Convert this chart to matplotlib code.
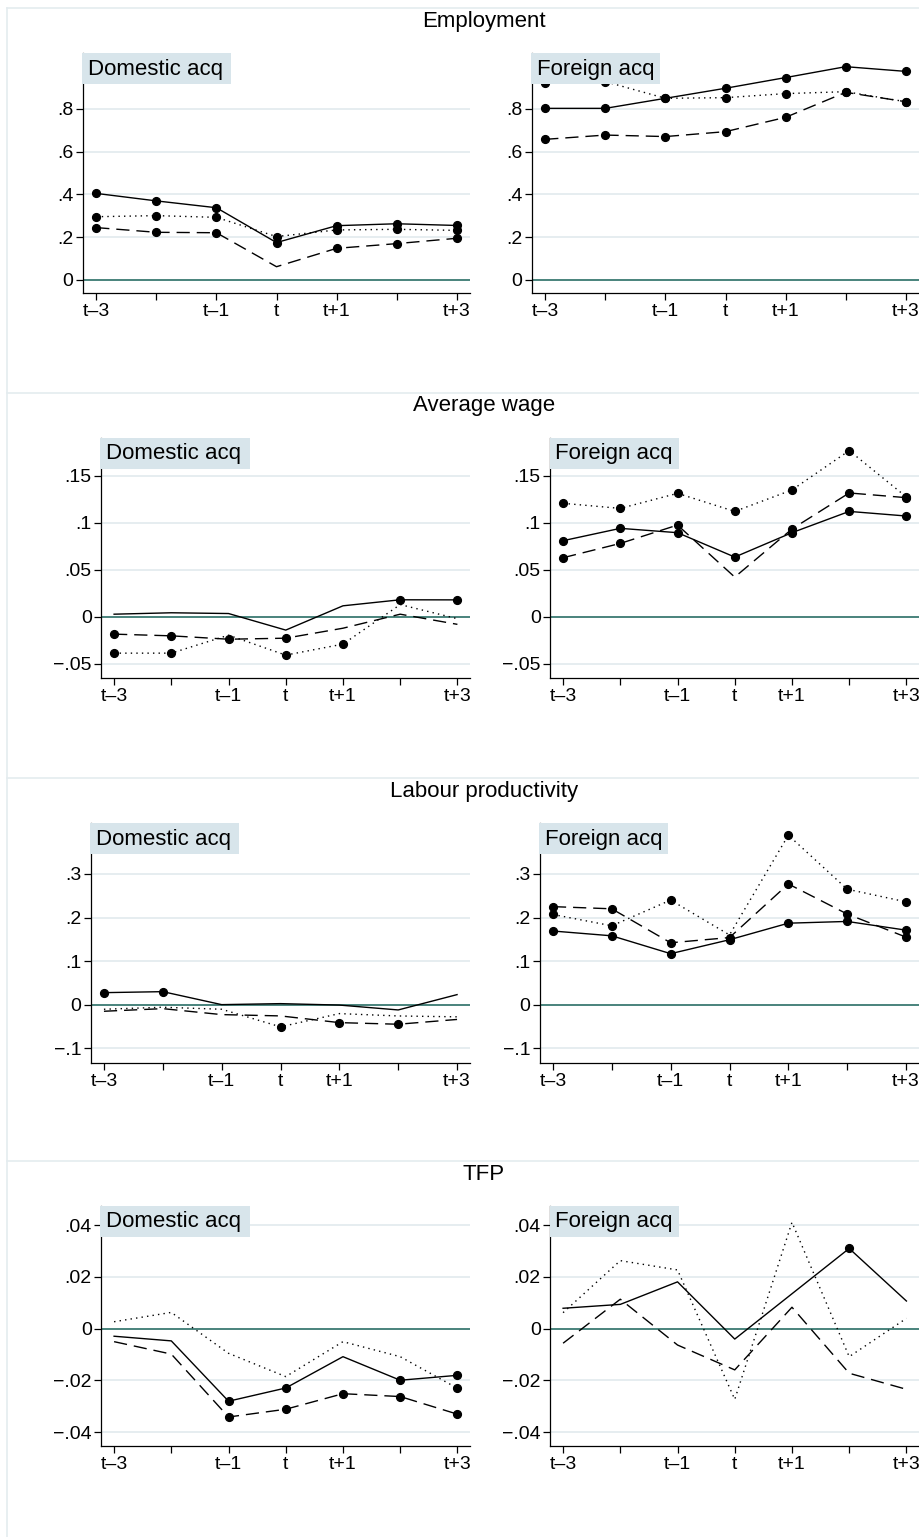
import numpy as np
import matplotlib
matplotlib.use("Agg")
import matplotlib.pyplot as plt
from matplotlib.patches import Rectangle
from matplotlib.lines import Line2D

plt.rcParams['font.family'] = ['Liberation Sans', 'DejaVu Sans']

periods = ["t–3", "", "t–1", "t", "t+1", "", "t+3"]
outcomes = ["Employment", "Average wage", "Labour productivity", "TFP"]
groups = ["Domestic acq", "Foreign acq"]

# --- Employment
emp_dom_solid = [0.405, 0.370, 0.338, 0.175, 0.254, 0.263, 0.255]
emp_dom_dash = [0.245, 0.223, 0.221, 0.062, 0.148, 0.170, 0.195]
emp_dom_dot = [0.296, 0.301, 0.293, 0.203, 0.234, 0.237, 0.232]
emp_dom_sig = [[1, 1, 1, 1, 1, 1, 1], [1, 1, 1, 0, 1, 1, 1], [1, 1, 1, 1, 1, 1, 1]]

emp_for_solid = [0.803, 0.803, 0.850, 0.897, 0.947, 0.998, 0.976]
emp_for_dash = [0.658, 0.678, 0.671, 0.694, 0.761, 0.878, 0.834]
emp_for_dot = [0.920, 0.928, 0.850, 0.853, 0.872, 0.881, 0.834]
emp_for_sig = [[1, 1, 1, 1, 1, 1, 1], [1, 1, 1, 1, 1, 1, 1], [1, 1, 1, 1, 1, 1, 1]]

# --- Average wage
wage_dom_solid = [0.0028, 0.0043, 0.0035, -0.0141, 0.0117, 0.0181, 0.0180]
wage_dom_dash = [-0.0184, -0.0202, -0.0238, -0.0227, -0.0121, 0.0028, -0.0080]
wage_dom_dot = [-0.0386, -0.0386, -0.0195, -0.0407, -0.0290, 0.0130, -0.0020]
wage_dom_sig = [[0, 0, 0, 0, 0, 1, 1], [1, 1, 1, 1, 0, 0, 0], [1, 1, 0, 1, 1, 0, 0]]

wage_for_solid = [0.0809, 0.0940, 0.0894, 0.0635, 0.0894, 0.1120, 0.1071]
wage_for_dash = [0.0628, 0.0780, 0.0975, 0.0422, 0.0933, 0.1316, 0.1266]
wage_for_dot = [0.1206, 0.1152, 0.1312, 0.1120, 0.1348, 0.1766, 0.1273]
wage_for_sig = [[1, 1, 1, 1, 1, 1, 1], [1, 1, 1, 0, 1, 1, 1], [1, 1, 1, 1, 1, 1, 1]]

# --- Labour productivity
lp_dom_solid = [0.0275, 0.0298, 0.0000, 0.0023, -0.0010, -0.0122, 0.0230]
lp_dom_dash = [-0.0152, -0.0092, -0.0229, -0.0259, -0.0413, -0.0450, -0.0340]
lp_dom_dot = [-0.0106, -0.0060, -0.0106, -0.0510, -0.0206, -0.0260, -0.0280]
lp_dom_sig = [[1, 1, 0, 0, 0, 0, 0], [0, 0, 0, 0, 1, 1, 0], [0, 0, 0, 1, 0, 0, 0]]

lp_for_solid = [0.169, 0.158, 0.117, 0.149, 0.187, 0.191, 0.171]
lp_for_dash = [0.225, 0.220, 0.142, 0.154, 0.277, 0.208, 0.155]
lp_for_dot = [0.207, 0.181, 0.240, 0.160, 0.389, 0.265, 0.236]
lp_for_sig = [[1, 1, 1, 1, 1, 1, 1], [1, 1, 1, 1, 1, 1, 1], [1, 1, 1, 0, 1, 1, 1]]

# --- TFP
tfp_dom_solid = [-0.0029, -0.0047, -0.0280, -0.0229, -0.0108, -0.0199, -0.0180]
tfp_dom_dash = [-0.0050, -0.0098, -0.0341, -0.0311, -0.0251, -0.0262, -0.0330]
tfp_dom_dot = [0.0027, 0.0063, -0.0095, -0.0185, -0.0050, -0.0108, -0.0230]
tfp_dom_sig = [[0, 0, 1, 1, 0, 1, 1], [0, 0, 1, 1, 1, 1, 1], [0, 0, 0, 0, 0, 0, 1]]

tfp_for_solid = [0.0079, 0.0094, 0.0181, -0.0040, 0.0135, 0.0310, 0.0107]
tfp_for_dash = [-0.0056, 0.0114, -0.0063, -0.0159, 0.0083, -0.0172, -0.0234]
tfp_for_dot = [0.0062, 0.0263, 0.0227, -0.0273, 0.0411, -0.0108, 0.0040]
tfp_for_sig = [[0, 0, 0, 0, 0, 1, 0], [0, 0, 0, 0, 0, 0, 0], [0, 0, 0, 0, 0, 0, 0]]

yticks = [[0, 0.2, 0.4, 0.6, 0.8],
          [-0.05, 0, 0.05, 0.1, 0.15],
          [-0.1, 0, 0.1, 0.2, 0.3],
          [-0.04, -0.02, 0, 0.02, 0.04]]
ylabels = [["0", ".2", ".4", ".6", ".8"],
           ["\u2212.05", "0", ".05", ".1", ".15"],
           ["\u2212.1", "0", ".1", ".2", ".3"],
           ["\u2212.04", "\u2212.02", "0", ".02", ".04"]]

panels = [
    [(emp_dom_solid, emp_dom_dash, emp_dom_dot, emp_dom_sig),
     (emp_for_solid, emp_for_dash, emp_for_dot, emp_for_sig)],
    [(wage_dom_solid, wage_dom_dash, wage_dom_dot, wage_dom_sig),
     (wage_for_solid, wage_for_dash, wage_for_dot, wage_for_sig)],
    [(lp_dom_solid, lp_dom_dash, lp_dom_dot, lp_dom_sig),
     (lp_for_solid, lp_for_dash, lp_for_dot, lp_for_sig)],
    [(tfp_dom_solid, tfp_dom_dash, tfp_dom_dot, tfp_dom_sig),
     (tfp_for_solid, tfp_for_dash, tfp_for_dot, tfp_for_sig)],
]

# layout (pixels)
W, H = 920, 1537
block_top = [0, 385, 770, 1153]
axis_x = [83, 101.5, 91, 101.5]
ylims = [(-0.061, 1.062), (-0.065, 0.190), (-0.134, 0.417), (-0.0453, 0.0474)]
box_w = [149, 129]

GRID = '#e4ecef'
ZERO = '#3d7b73'
BOX = '#d8e5eb'
styles = ['-', (0, (9.5, 5)), (0, (1, 3))]

fig = plt.figure(figsize=(W / 100, H / 100), dpi=100)

x = np.arange(len(periods))

for b, outcome in enumerate(outcomes):
    top = block_top[b]
    # light frame of each block
    fig.add_artist(Line2D([7 / W, 1], [1 - (8 + top) / H] * 2, transform=fig.transFigure,
                          color=GRID, lw=1.2))
    fig.text(484 / W, 1 - (21 + top) / H, outcome, ha='center', va='center', fontsize=16)

    for g, group in enumerate(groups):
        left = axis_x[b] + g * 449
        ax = fig.add_axes([left / W, 1 - (293 + top) / H, (470 - axis_x[b]) / W, 240 / H])
        ax.set_xlim(-0.22, 6.22)
        ax.set_ylim(*ylims[b])
        ax.set_axisbelow(True)
        ax.yaxis.grid(True, color=GRID, lw=1.3)
        ax.axhline(0, color=ZERO, lw=1.3, zorder=1.5)

        solid, dash, dot, sig = panels[b][g]
        for vals, ls, s in zip([solid, dash, dot], styles, sig):
            vals = np.array(vals)
            m = np.array(s, dtype=bool)
            ax.plot(x, vals, color='black', lw=1.0, linestyle=ls, zorder=3)
            ax.plot(x[m], vals[m], 'o', color='black', ms=5.6, zorder=4)

        ax.set_xticks(x)
        ax.set_xticklabels(periods)
        ax.set_yticks(yticks[b])
        ax.set_yticklabels(ylabels[b])
        ax.tick_params(labelsize=14, length=5, width=0.9, pad=2)
        for sp in ['top', 'right']:
            ax.spines[sp].set_visible(False)
        for sp in ['left', 'bottom']:
            ax.spines[sp].set_linewidth(0.9)

        # subtitle box
        fig.add_artist(Rectangle(((left - 1) / W, 1 - (84 + top) / H), box_w[g] / W, 31 / H,
                                 transform=fig.transFigure, facecolor=BOX, edgecolor='none', zorder=5))
        fig.text((left + 5) / W, 1 - (69 + top) / H, group, ha='left', va='center',
                 fontsize=16, zorder=6)

fig.add_artist(Line2D([7 / W] * 2, [1 - 8 / H, 0], transform=fig.transFigure, color=GRID, lw=1.2))

fig.savefig('out.png', dpi=100)
